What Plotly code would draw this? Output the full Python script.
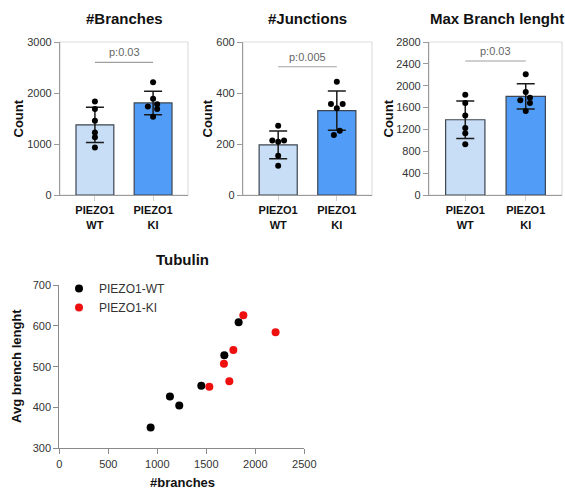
import numpy as np
import plotly.graph_objects as go

# ---------------- data ----------------
groups = ["PIEZO1<br>WT", "PIEZO1<br>KI"]

branches_wt = [1835, 1685, 1455, 1225, 1130, 930]
branches_ki = [2210, 1885, 1780, 1735, 1685, 1535]

junctions_wt = [272, 214, 209, 214, 154, 115]
junctions_ki = [444, 357, 357, 340, 235, 252]

maxbranch_wt = [1835, 1685, 1455, 1225, 1130, 930]
maxbranch_ki = [2210, 1885, 1780, 1735, 1685, 1535]

pvals = ["p:0.03", "p:0.005", "p:0.03"]

scatter_wt_x = [932, 1129, 1224, 1449, 1684, 1830]
scatter_wt_y = [351, 427, 405, 453, 528, 609]
scatter_ki_x = [1531, 1680, 1735, 1776, 1878, 2207]
scatter_ki_y = [451, 507, 464, 541, 626, 584]

# jitter (style only) for the dots
jit_br_wt = [0, 0, 0, 0, 0, 0]
jit_br_ki = [0, 0, 0.07, -0.09, 0.07, 0]
jit_jn_wt = [0, -0.1, 0, 0.1, 0, 0]
jit_jn_ki = [0, -0.1, 0.1, 0, -0.05, 0.05]

# ---------------- style ----------------
FONT = "Liberation Sans, Arial, sans-serif"
C_WT = "#c8ddf6"
C_KI = "#519cf7"
W, H = 565, 493

def px_x(p):
    return p / W

def px_y(p):
    return 1 - p / H

fig = go.Figure()

panels = [
    dict(title="#Branches", wt=branches_wt, ki=branches_ki, jw=jit_br_wt, jk=jit_br_ki,
         rng=[0, 3000], dtick=1000, xd=(60, 188), sig=2600, ax="", ylab_x=18, tx=124),
    dict(title="#Junctions", wt=junctions_wt, ki=junctions_ki, jw=jit_jn_wt, jk=jit_jn_ki,
         rng=[0, 600], dtick=200, xd=(243, 372), sig=503, ax="2", ylab_x=207, tx=307),
    dict(title="Max Branch lenght", wt=maxbranch_wt, ki=maxbranch_ki, jw=jit_br_wt, jk=jit_br_ki,
         rng=[0, 2800], dtick=400, xd=(429, 562), sig=2452, ax="3", ylab_x=388, tx=497),
]

top_px, bot_px = 42, 195
annotations = []
shapes = []

for i, p in enumerate(panels):
    xa = "x" + p["ax"]
    ya = "y" + p["ax"]
    means = [np.mean(p["wt"]), np.mean(p["ki"])]
    sds = [np.std(p["wt"], ddof=1), np.std(p["ki"], ddof=1)]
    fig.add_trace(go.Bar(
        x=[0, 1], y=means, width=0.65,
        marker=dict(color=[C_WT, C_KI], line=dict(color="#3d4550", width=1.2)),
        error_y=dict(type="data", array=sds, visible=True, color="#1a1a1a", thickness=1.5, width=9),
        xaxis=xa, yaxis=ya, showlegend=False, hoverinfo="skip",
    ))
    fig.add_trace(go.Scatter(
        x=[0 + j for j in p["jw"]] + [1 + j for j in p["jk"]],
        y=p["wt"] + p["ki"], mode="markers",
        marker=dict(color="black", size=6),
        xaxis=xa, yaxis=ya, showlegend=False, hoverinfo="skip",
    ))
    xdom = [px_x(p["xd"][0]), px_x(p["xd"][1])]
    ydom = [px_y(bot_px), px_y(top_px)]
    xkey = "xaxis" + p["ax"]
    ykey = "yaxis" + p["ax"]
    fig.update_layout(**{
        xkey: dict(domain=xdom, range=[-0.6, 1.6], tickvals=[0, 1],
                   ticktext=["<b>" + g.replace("<br>", "</b><br><b>") + "</b>" for g in groups],
                   showline=True, linecolor="#9a9a9a", linewidth=1.2, ticks="outside", ticklen=5,
                   tickcolor="#cfcfcf", showgrid=False, zeroline=False, anchor=ya, automargin=False,
                   tickfont=dict(family=FONT, size=11, color="#111")),
        ykey: dict(domain=ydom, range=p["rng"], dtick=p["dtick"], showline=True, linecolor="#9a9a9a",
                   linewidth=1.2, ticks="outside", ticklen=5, tickcolor="#9a9a9a", showgrid=False,
                   zeroline=False, anchor=xa, automargin=False,
                   tickfont=dict(family=FONT, size=11, color="#333")),
    })
    # light frame (top / right)
    shapes.append(dict(type="rect", xref=xa + " domain", yref=ya + " domain", x0=0, x1=1, y0=0, y1=1,
                       line=dict(color="#dedede", width=1.2), layer="below"))
    # significance line + label
    shapes.append(dict(type="line", xref=xa, yref=ya, x0=0, x1=1, y0=p["sig"], y1=p["sig"],
                       line=dict(color="#a0a0a0", width=1.2)))
    annotations.append(dict(xref=xa, yref=ya, x=0.5, y=p["sig"], text=pvals[i], showarrow=False,
                            xanchor="center", yanchor="bottom", yshift=2,
                            font=dict(family=FONT, size=11, color="#666")))
    # titles
    annotations.append(dict(xref="paper", yref="paper", x=px_x(p["tx"]), y=px_y(18),
                            text="<b>" + p["title"] + "</b>", xanchor="center", yanchor="middle",
                            showarrow=False, font=dict(family=FONT, size=15, color="#111")))
    annotations.append(dict(xref="paper", yref="paper", x=px_x(p["ylab_x"]), y=px_y((top_px + bot_px) / 2),
                            text="<b>Count</b>", textangle=-90, showarrow=False,
                            xanchor="center", yanchor="middle",
                            font=dict(family=FONT, size=13, color="#111")))

# ---------------- scatter panel ----------------
fig.add_trace(go.Scatter(x=scatter_wt_x, y=scatter_wt_y, mode="markers", name="PIEZO1-WT",
                         marker=dict(color="black", size=8), xaxis="x4", yaxis="y4"))
fig.add_trace(go.Scatter(x=scatter_ki_x, y=scatter_ki_y, mode="markers", name="PIEZO1-KI",
                         marker=dict(color="#ee0f0f", size=8), xaxis="x4", yaxis="y4"))

fig.update_layout(
    xaxis4=dict(domain=[px_x(59.3), px_x(304.3)], range=[0, 2500], dtick=500, showline=True,
                linecolor="#8a8a8a", linewidth=1.2, ticks="outside", ticklen=5, tickcolor="#8a8a8a",
                showgrid=False, zeroline=False, anchor="y4", automargin=False,
                tickfont=dict(family=FONT, size=11, color="#333")),
    yaxis4=dict(domain=[px_y(448.3), px_y(285)], range=[300, 700], dtick=100, showline=True,
                linecolor="#8a8a8a", linewidth=1.2, ticks="outside", ticklen=5, tickcolor="#8a8a8a",
                showgrid=False, zeroline=False, anchor="x4", automargin=False,
                tickfont=dict(family=FONT, size=11, color="#333")),
)
annotations.append(dict(xref="paper", yref="paper", x=px_x(182), y=px_y(259), text="<b>Tubulin</b>",
                        xanchor="center", yanchor="middle",
                        showarrow=False, font=dict(family=FONT, size=15, color="#111")))
annotations.append(dict(xref="paper", yref="paper", x=px_x(182), y=px_y(482), text="<b>#branches</b>",
                        xanchor="center", yanchor="middle",
                        showarrow=False, font=dict(family=FONT, size=13, color="#111")))
annotations.append(dict(xref="paper", yref="paper", x=px_x(16), y=px_y(366), text="<b>Avg brench lenght</b>",
                        xanchor="center", yanchor="middle",
                        textangle=-90, showarrow=False, font=dict(family=FONT, size=13, color="#111")))

fig.update_layout(
    width=W, height=H, margin=dict(l=0, r=0, t=0, b=0),
    paper_bgcolor="white", plot_bgcolor="white",
    annotations=annotations, shapes=shapes, barmode="overlay",
    legend=dict(x=px_x(59), y=px_y(274), xanchor="left", yanchor="top", bgcolor="rgba(0,0,0,0)",
                font=dict(family=FONT, size=12, color="#333"), itemsizing="trace",
                tracegroupgap=0, itemwidth=30),
    font=dict(family=FONT),
)

fig.write_html(
    "out.html",
    config={"responsive": False, "displayModeBar": False},
    default_width="565px",
    default_height="493px",
    post_script="document.body.style.margin='0';document.body.style.overflow='hidden';",
)
